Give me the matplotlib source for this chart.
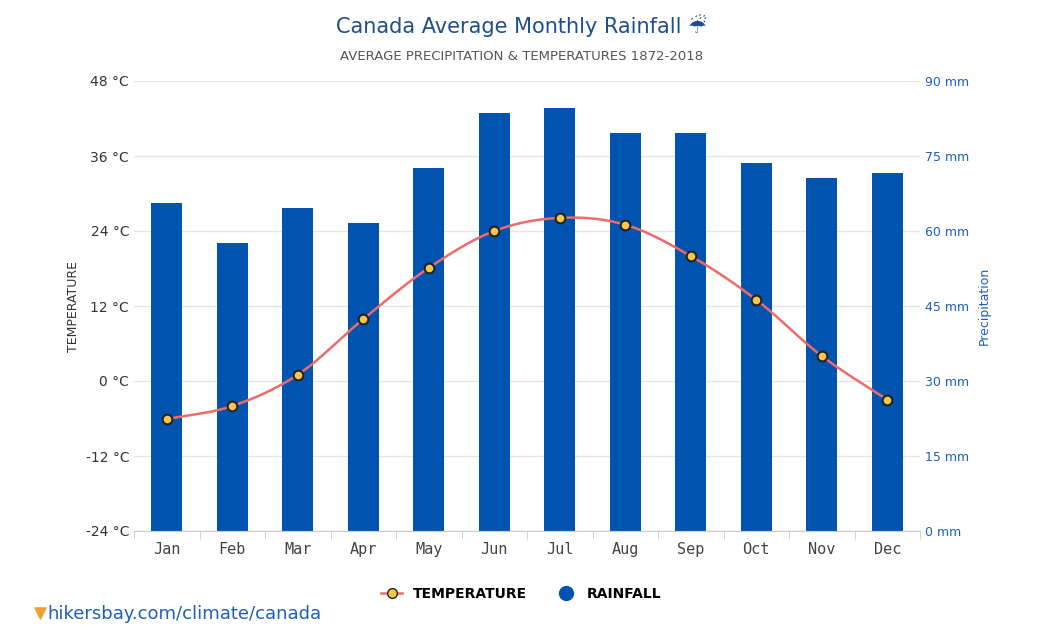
import matplotlib
matplotlib.use("Agg")
import matplotlib.pyplot as plt
import numpy as np
from matplotlib.lines import Line2D

months = ["Jan","Feb","Mar","Apr","May","Jun","Jul","Aug","Sep","Oct","Nov","Dec"]
rain = [65.6, 57.6, 64.6, 61.6, 72.6, 83.6, 84.6, 79.6, 79.6, 73.6, 70.6, 71.6]
temp = [-6.1, -4.0, 1.0, 9.9, 18.1, 24.0, 26.1, 25.0, 20.0, 13.0, 4.0, -3.0]

fig = plt.figure(figsize=(10.43, 6.4), dpi=100)
ax = fig.add_axes([134/1043, 1-531/640, (920-134)/1043, 450/640])
ax2 = ax.twinx()
x = np.arange(12)
ax2.bar(x, rain, width=0.48, color="#0054b0", zorder=2)
ax2.set_ylim(0, 90)
ax2.set_yticks(np.arange(0, 91, 15))
ax2.set_yticklabels([f"{v} mm" for v in range(0, 91, 15)], color="#1f5fb8", fontsize=9)
ax2.set_ylabel("Precipitation", color="#1f5fb8", fontsize=9, labelpad=6)
ax2.grid(axis='y', color="#e6e6e6", lw=1, zorder=0)
ax2.set_axisbelow(True)

t = np.array(temp)
xs, ys = [], []
p = np.concatenate([[2*t[0]-t[1]], t, [2*t[-1]-t[-2]]])
for i in range(11):
    p0, p1, p2, p3 = p[i], p[i+1], p[i+2], p[i+3]
    s = np.linspace(0, 1, 20)
    y = 0.5*((2*p1) + (-p0+p2)*s + (2*p0-5*p1+4*p2-p3)*s**2 + (-p0+3*p1-3*p2+p3)*s**3)
    xs.extend(i+s); ys.extend(y)
ax.set_zorder(ax2.get_zorder()+1); ax.patch.set_visible(False)
ax.plot(xs, ys, color="#f06a6a", lw=1.8, zorder=3)
ax.plot(x, temp, 'o', ms=7, mfc="#f9c74f", mec="#222222", mew=1.5, zorder=4)
ax.set_ylim(-24, 48)
ax.set_yticks(np.arange(-24, 49, 12))
ax.set_yticklabels([f"{v} °C" for v in range(-24, 49, 12)], fontsize=10, color="#333333")
ax.set_ylabel("TEMPERATURE", fontsize=9, color="#333333")
ax.set_xlim(-0.5, 11.5)
ax.set_xticks(x)
ax.set_xticklabels(months, family="DejaVu Sans Mono", fontsize=11, color="#444444")
ax.set_xticks(np.arange(-0.5, 12, 1), minor=True)
ax.tick_params(axis='x', which='major', length=0, pad=8)
ax.tick_params(axis='x', which='minor', length=6, color="#cccccc")
ax.tick_params(axis='y', length=0)
ax2.tick_params(axis='y', length=0)
for a in (ax, ax2):
    for s in ["top", "left", "right"]:
        a.spines[s].set_visible(False)
    a.spines["bottom"].set_color("#cccccc")

fig.text(0.5, 1-25/640, "Canada Average Monthly Rainfall ☔", ha="center", va="center", fontsize=15, color="#1f4e8c")
fig.text(0.5, 1-56/640, "AVERAGE PRECIPITATION & TEMPERATURES 1872-2018", ha="center", va="center", fontsize=9.5, color="#555555")
handles = [Line2D([0], [0], color="#f06a6a", lw=1.8, marker='o', mfc="#f9c74f", mec="#222222", ms=7),
           Line2D([0], [0], marker='o', color='none', mfc="#0054b0", mec="#0054b0", ms=10)]
fig.legend(handles, ["TEMPERATURE", "RAINFALL"], loc="center", bbox_to_anchor=(0.5, 1-594/640),
           ncol=2, frameon=False, prop={"weight": "bold", "size": 10}, handlelength=1.5, columnspacing=2)
fig.lines.append(Line2D([40/1043], [1-613/640], transform=fig.transFigure, marker=r'$\blacktriangledown$',
                        color="#f0a030", ms=8, ls='none'))
fig.text(47/1043, 1-614/640, "hikersbay.com/climate/canada", fontsize=13, color="#1f5fb8", va="center")
fig.savefig("out.png", dpi=100)
